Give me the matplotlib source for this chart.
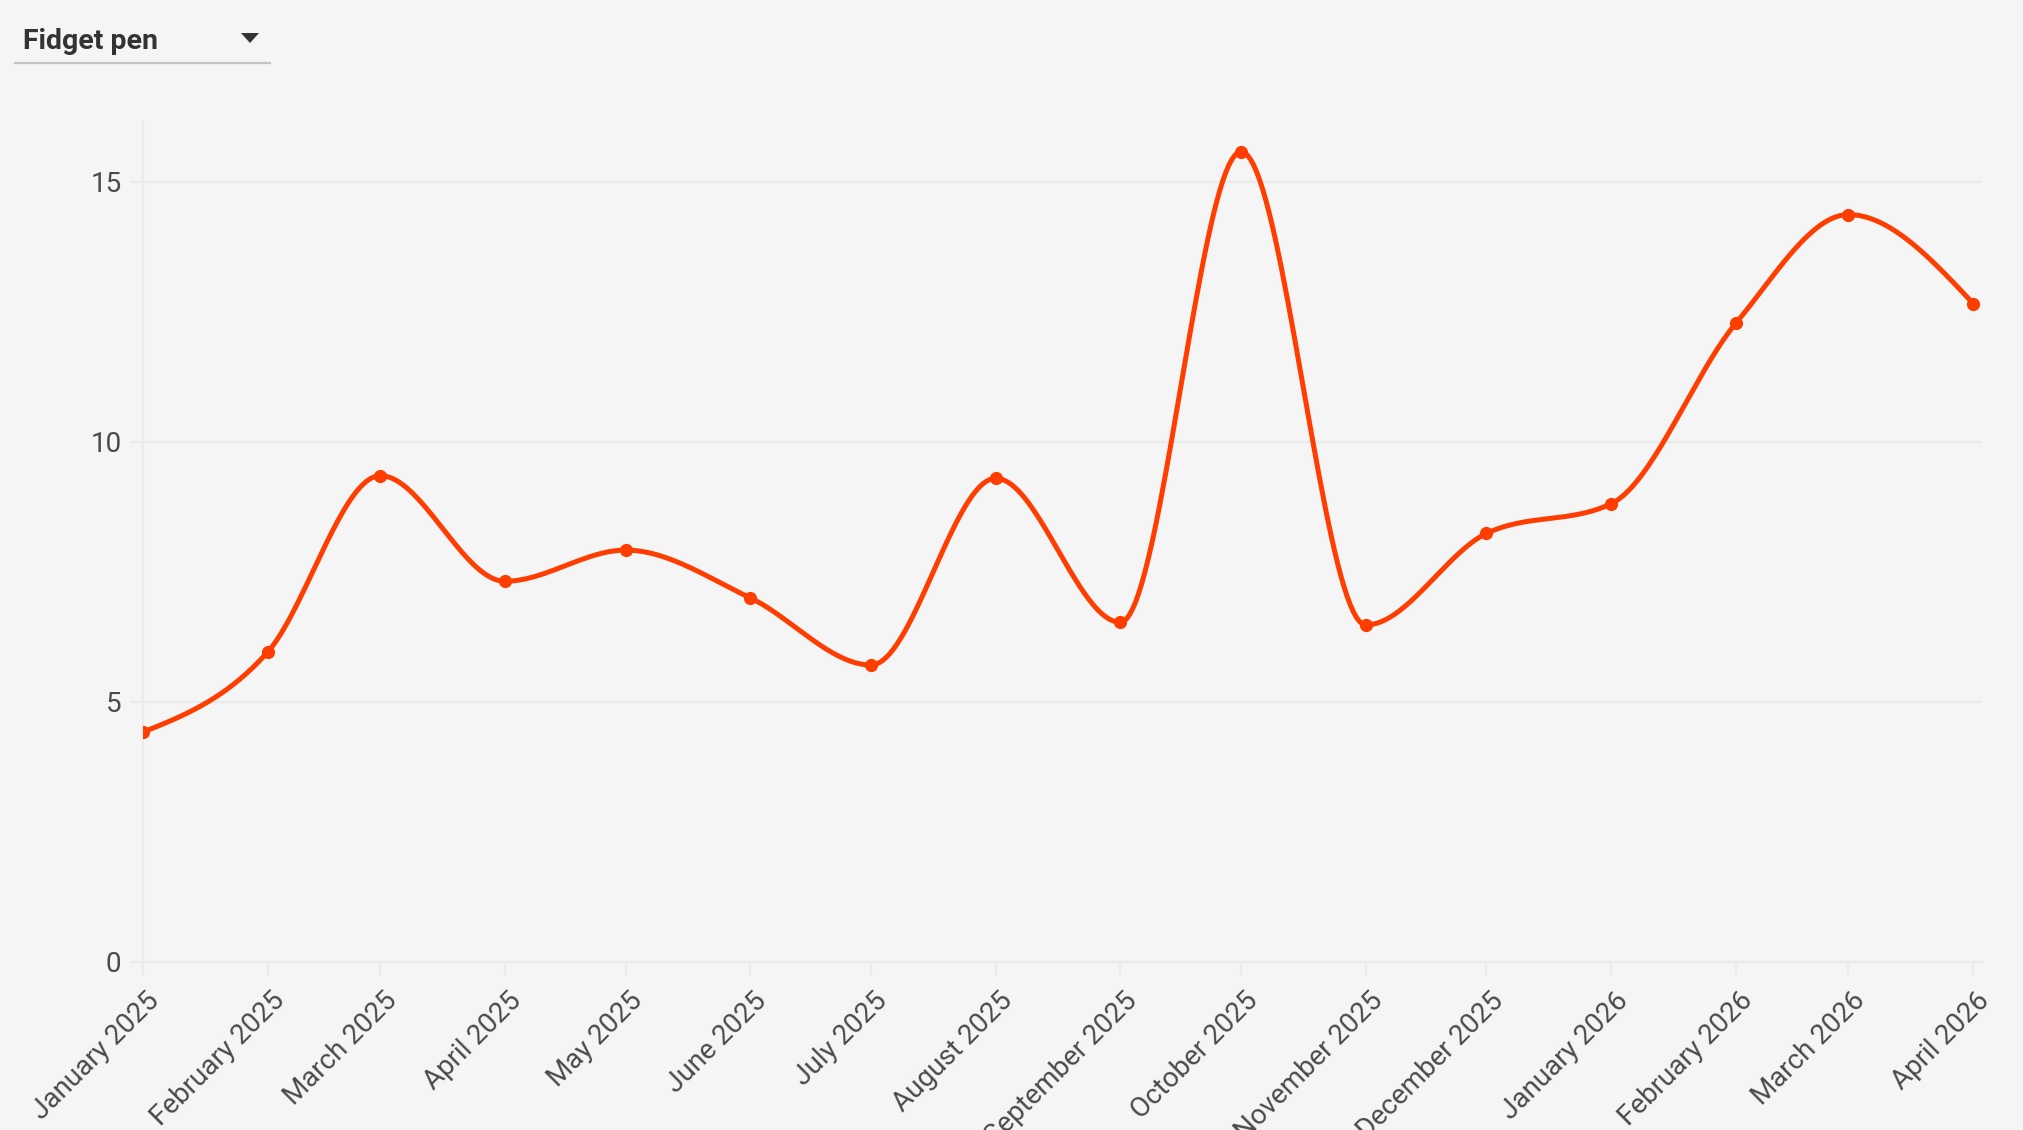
import numpy as np
import matplotlib
matplotlib.use("Agg")
import matplotlib.pyplot as plt
import matplotlib.dates as mdates
from matplotlib.transforms import ScaledTranslation
from matplotlib.patches import Polygon
from matplotlib.lines import Line2D

# ---------------- data ----------------
dates = ["2025-01-01", "2025-02-01", "2025-03-01", "2025-04-01", "2025-05-01",
         "2025-06-01", "2025-07-01", "2025-08-01", "2025-09-01", "2025-10-01",
         "2025-11-01", "2025-12-01", "2026-01-01", "2026-02-01", "2026-03-01",
         "2026-04-01"]
values = [4.42, 5.96, 9.35, 7.32, 7.92, 7.0, 5.71, 9.3, 6.53, 15.58,
          6.48, 8.24, 8.81, 12.28, 14.37, 12.66]
tick_labels = ["January 2025", "February 2025", "March 2025", "April 2025",
               "May 2025", "June 2025", "July 2025", "August 2025",
               "September 2025", "October 2025", "November 2025",
               "December 2025", "January 2026", "February 2026",
               "March 2026", "April 2026"]
y_ticks = [0, 5, 10, 15]
selector_label = "Fidget pen"

# ---------------- style ----------------
W, H = 2024, 1130
BG = "#f5f5f5"
GRID = "#ebebeb"
LINE = "#ff3d00"
TXT = "#4a4a4a"
plt.rcParams["font.family"] = ["Roboto", "DejaVu Sans"]

x = mdates.date2num(np.array(dates, dtype="datetime64[D]"))
y = np.array(values, dtype=float)


def monotone_x(xs, ys, n=40):
    """d3 curveMonotoneX equivalent (cubic Hermite with Steffen-like slopes)."""
    m = len(xs)
    t = np.zeros(m)
    for i in range(1, m - 1):
        h0 = xs[i] - xs[i - 1]
        h1 = xs[i + 1] - xs[i]
        s0 = (ys[i] - ys[i - 1]) / h0
        s1 = (ys[i + 1] - ys[i]) / h1
        p = (s0 * h1 + s1 * h0) / (h0 + h1)
        t[i] = (np.sign(s0) + np.sign(s1)) * min(abs(s0), abs(s1), 0.5 * abs(p))
    h = xs[1] - xs[0]
    t[0] = (3 * (ys[1] - ys[0]) / h - t[1]) / 2
    h = xs[-1] - xs[-2]
    t[-1] = (3 * (ys[-1] - ys[-2]) / h - t[-2]) / 2
    X, Y = [], []
    for i in range(m - 1):
        dx = xs[i + 1] - xs[i]
        u = np.linspace(0, 1, n, endpoint=(i == m - 2))
        h00 = 2 * u**3 - 3 * u**2 + 1
        h10 = u**3 - 2 * u**2 + u
        h01 = -2 * u**3 + 3 * u**2
        h11 = u**3 - u**2
        X.append(xs[i] + u * dx)
        Y.append(h00 * ys[i] + h10 * dx * t[i] + h01 * ys[i + 1] + h11 * dx * t[i + 1])
    return np.concatenate(X), np.concatenate(Y)


fig = plt.figure(figsize=(W / 100, H / 100), dpi=100, facecolor=BG)
ax_l, ax_r, ax_t, ax_b = 143, 1982, 122, 962
ax = fig.add_axes([ax_l / W, 1 - ax_b / H, (ax_r - ax_l) / W, (ax_b - ax_t) / H])
ax.set_facecolor(BG)

sx, sy = monotone_x(x, y)
ax.plot(sx, sy, color=LINE, lw=3.6, solid_capstyle="round", zorder=3)
ax.plot(x, y, "o", color=LINE, ms=9.5, mec="none", zorder=4)

ax.set_xlim(x[0], x[-1] + 2.2)
ax.set_ylim(0, 16.15)

ax.set_yticks(y_ticks)
ax.set_yticklabels([str(v) for v in y_ticks])
ax.set_xticks(x)
ax.set_xticklabels(tick_labels)

ax.grid(axis="y", color=GRID, lw=1.6)
ax.set_axisbelow(True)
for s in ["top", "right"]:
    ax.spines[s].set_visible(False)
ax.spines["left"].set_color(GRID)
ax.spines["left"].set_linewidth(1.6)
ax.spines["bottom"].set_color(GRID)
ax.spines["bottom"].set_linewidth(1.6)

ax.tick_params(axis="y", length=9.4, width=1.6, color=GRID, pad=6,
               labelsize=20, labelcolor=TXT)
ax.tick_params(axis="x", length=10, width=1.6, color=GRID, pad=8,
               labelsize=20, labelcolor=TXT)

off = ScaledTranslation(0.03, 0, fig.dpi_scale_trans)
for lab in ax.get_xticklabels():
    lab.set_rotation(45)
    lab.set_rotation_mode("anchor")
    lab.set_ha("right")
    lab.set_va("top")
    lab.set_transform(lab.get_transform() + off)

# ---------------- selector (dropdown) ----------------
def fp(px, py):
    return (px / W, 1 - py / H)

fig.text(*fp(23, 49), selector_label, fontsize=20.5, fontweight="bold",
         color="#333333", va="baseline", ha="left")
tri = Polygon([fp(241, 33), fp(259, 33), fp(250, 43)], closed=True,
              transform=fig.transFigure, facecolor="#333333", edgecolor="none")
fig.patches.append(tri)
fig.lines.append(Line2D([15 / W, 270 / W], [1 - 63 / H, 1 - 63 / H],
                        transform=fig.transFigure, color="#c4c4c4", lw=1.6))

fig.savefig("out.png", dpi=100, facecolor=BG)
